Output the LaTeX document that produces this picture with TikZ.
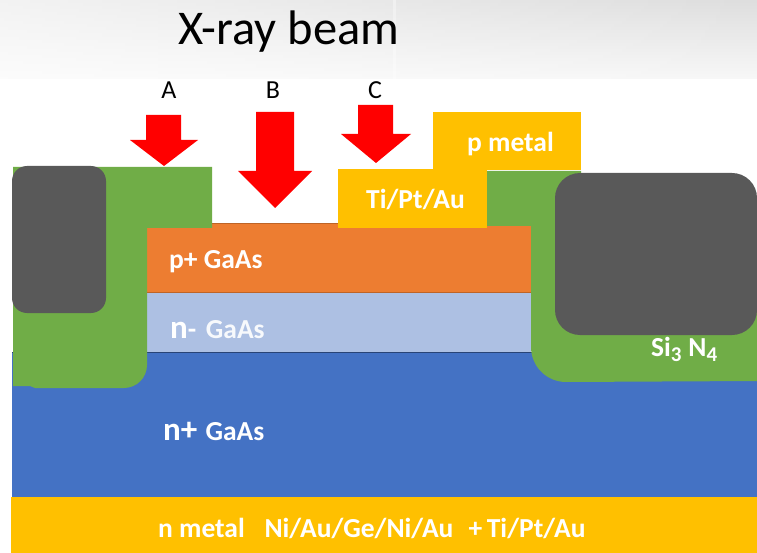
\documentclass[tikz,border=0pt]{standalone}
\usepackage{fontspec}
\usetikzlibrary{fadings}
\setmainfont{Carlito}
\definecolor{cgreen}{HTML}{70AD47}
\definecolor{cgrey}{HTML}{595959}
\definecolor{cgold}{HTML}{FFC000}
\definecolor{corange}{HTML}{ED7D31}
\definecolor{cblue}{HTML}{4472C4}
\definecolor{clight}{HTML}{ADC0E3}
\tikzset{
  lab/.style={text=white,font=\bfseries\fontsize{27.5}{30}\selectfont,inner sep=0pt,anchor=west},
  top/.style={text=black,font=\fontsize{26}{30}\selectfont,inner sep=0pt},
  beam/.style={fill=red,draw=none},
  layer/.style={draw=none}
}
\begin{document}
\begin{tikzpicture}[x=1pt,y=-1pt]
\useasboundingbox (0,0) rectangle (757,553);
\fill[white] (0,0) rectangle (757,553);
% photo band
\shade[top color=black!13,bottom color=black!3] (0,0) rectangle (757,79);
\fill[white,path fading=east,opacity=.8] (-200,0) rectangle (757,79);
\fill[white,opacity=.35] (393,0) rectangle (396,79);
% layers
\fill[layer,cblue] (12,352) rectangle (757,497);
\draw[black!40!cblue,line width=.6pt] (12,352) -- (757,352);
\fill[layer,cgold] (11,497) rectangle (757,553);
\fill[layer,clight] (147,293) rectangle (531,352);
\fill[layer,corange] (147,224) rectangle (531,293);
\draw[corange!80!black,line width=1pt] (147,292.6) -- (531,292.6) (212,224) -- (338,224);
% nitride
\fill[cgreen] (13,167) -- (212,167) -- (212,228) -- (147,228) -- (147,365)
  arc[start angle=0,end angle=90,radius=23] -- (35,388) -- (30,386) -- (13,386) -- cycle;
\fill[cgreen] (487,171) -- (581,171) -- (581,200) -- (757,200) -- (757,381) -- (566,382)
  arc[start angle=90,end angle=180,radius=35] -- (531,226) -- (487,226) -- cycle;
% metals
\fill[layer,cgold] (338,169) rectangle (487,228);
\fill[layer,cgold] (433,112) rectangle (581,170);
% polyimide
\fill[cgrey,rounded corners=15pt] (12,166) rectangle (106,313);
\fill[cgrey,rounded corners=25pt] (555,173) rectangle (757,335);
% beams
\fill[beam] (146,115) -- (181,115) -- (181,140) -- (198,140) -- (164,166) -- (130,140) -- (146,140) -- cycle;
\fill[beam] (256,112) -- (294,112) -- (294,171) -- (312,171) -- (275,208) -- (238,171) -- (256,171) -- cycle;
\fill[beam] (358,105) -- (393,105) -- (393,134) -- (411,134) -- (376,163) -- (341,134) -- (358,134) -- cycle;
% text
\node[inner sep=0pt,font=\fontsize{48.5}{52}\selectfont] (title) at (289,32) {X-ray beam};
\node[top] (la) at (169,90) {A};
\node[top] (lb) at (273,90) {B};
\node[top] (lc) at (375,90) {C};
\node[lab] (pm) at (467,144) {p metal};
\node[lab] (tpa) at (366,199) {Ti/Pt/Au};
\node[lab] (pg) at (169,262) {p+ GaAs};
\node[lab] (ng) at (170,330) {{\fontsize{33}{30}\selectfont n}-\hspace{.35em}{\color{white!90!clight}GaAs}};
\node[lab] (npg) at (163,431) {{\fontsize{33}{30}\selectfont n+}\hspace{.3em}GaAs};
\node[lab] (nm) at (158,528) {n metal\hspace{.72em}Ni/Au/Ge/Ni/Au\hspace{.55em}+\,Ti/Pt/Au};
\node[lab] (si) at (651,349) {Si\raisebox{-5pt}{\fontsize{21}{24}\selectfont 3}\hspace{.25em}N\raisebox{-5pt}{\fontsize{21}{24}\selectfont 4}};
\end{tikzpicture}
\end{document}
